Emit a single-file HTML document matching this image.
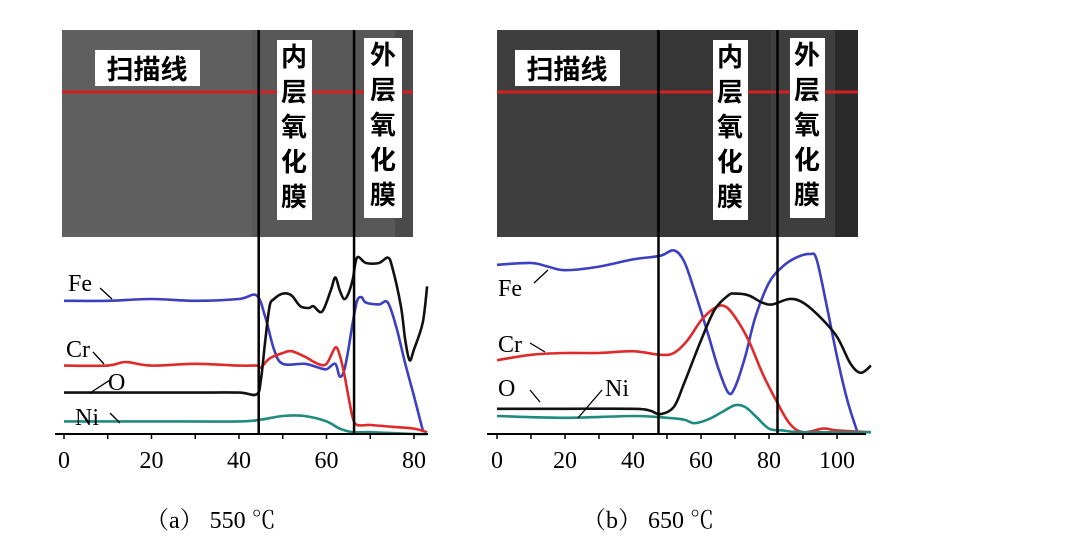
<!DOCTYPE html>
<html><head><meta charset="utf-8"><style>
body{margin:0;background:#fff;}
svg{display:block;font-family:"Liberation Serif","Noto Serif CJK SC",serif;}
.cjk{font-family:"Liberation Sans","Noto Sans CJK SC",sans-serif;font-weight:bold;}
</style></head><body>
<svg id="s" width="1070" height="546" viewBox="0 0 1070 546">
<g>
<rect x="62" y="30" width="351" height="207" fill="#5f5f5f"/>
<rect x="252" y="30" width="161" height="207" fill="#585858"/>
<rect x="395" y="30" width="18" height="207" fill="#4a4a4a"/>
<line x1="62" y1="92" x2="413" y2="92" stroke="#d42020" stroke-width="3"/>
<rect x="95" y="50" width="105" height="36" fill="#fff"/>
<text class="cjk" x="147" y="79" font-size="27" text-anchor="middle">扫描线</text>
<rect x="277" y="40" width="35" height="180" fill="#fff"/>
<text class="cjk" font-size="26" text-anchor="middle"><tspan x="294" y="66">内</tspan><tspan x="294" y="101">层</tspan><tspan x="294" y="136">氧</tspan><tspan x="294" y="171">化</tspan><tspan x="294" y="206">膜</tspan></text>
<rect x="364" y="38" width="38" height="180" fill="#fff"/>
<text class="cjk" font-size="26" text-anchor="middle"><tspan x="383" y="64">外</tspan><tspan x="383" y="99">层</tspan><tspan x="383" y="134">氧</tspan><tspan x="383" y="169">化</tspan><tspan x="383" y="204">膜</tspan></text>
</g>
<g>
<rect x="497" y="30" width="361" height="207" fill="#3e3e3e"/>
<rect x="656" y="30" width="115" height="207" fill="#363636"/>
<rect x="835" y="30" width="23" height="207" fill="#2a2a2a"/>
<line x1="497" y1="92" x2="858" y2="92" stroke="#d42020" stroke-width="3"/>
<rect x="515" y="50" width="105" height="36" fill="#fff"/>
<text class="cjk" x="567" y="79" font-size="27" text-anchor="middle">扫描线</text>
<rect x="713" y="40" width="35" height="180" fill="#fff"/>
<text class="cjk" font-size="26" text-anchor="middle"><tspan x="730" y="66">内</tspan><tspan x="730" y="101">层</tspan><tspan x="730" y="136">氧</tspan><tspan x="730" y="171">化</tspan><tspan x="730" y="206">膜</tspan></text>
<rect x="790" y="38" width="35" height="180" fill="#fff"/>
<text class="cjk" font-size="26" text-anchor="middle"><tspan x="807" y="64">外</tspan><tspan x="807" y="99">层</tspan><tspan x="807" y="134">氧</tspan><tspan x="807" y="169">化</tspan><tspan x="807" y="204">膜</tspan></text>
</g>
<g id="ga"></g>
<g id="gb"></g>
<text x="145" y="528" font-size="24">（a）  550 ℃</text>
<text x="582" y="528" font-size="24">（b）  650 ℃</text>
</svg>
<script>
const aTicks=[0,20,40,60,80];
const aBoundaries=[44.5,66.3];
const aFeX=[0,10,20,30,40,44,46,48,50,55,58,60,62,63,64,65,66,67,68,69,72,74,76,78,80,82];
const aFeY=[74,74,75,74,75,77,65,47,39,39,37,36,39,32,35,47,62,74,76,73,72,73,59,39,21,2];
const aOX=[0,10,20,30,40,44,45,46,47,48,50,52,54,56,57,59,61,62,63,64,65,66,67,69,72,74,75,77,78,79,80,82,83];
const aOY=[23,23,23,23,23,22,30,52,71,75,78,77,71,70,71,68,80,87,80,75,78,86,98,95,95,98,93,71,52,41,47,62,82];
const aCrX=[0,10,14,20,30,40,44,45,47,50,52,55,58,60,62,63,64,65,66,67,70,75,80,83];
const aCrY=[38,38,40,38,39,38,38,37,42,45,46,43,39,39,48,44,34,21,9,5,5,4,3,1];
const aNiX=[0,20,40,45,50,55,60,63,66,70,80,83];
const aNiY=[7,7,7,8,10,10,7,3,1,1,0,0];
const bTicks=[0,20,40,60,80,100];
const bBoundaries=[47.5,82.5];
const bFeX=[0,10,15,20,30,40,48,52,55,58,62,65,68,70,73,76,80,84,88,92,94,97,100,103,106];
const bFeY=[94,95,93,91,93,97,99,102,96,80,56,37,23,26,43,65,84,93,98,100,97,71,43,19,1];
const bOX=[0,20,40,45,48,52,55,60,64,68,70,74,78,81,86,90,95,100,104,107,110];
const bOY=[14,14,14,13,11,15,28,52,69,77,78,77,73,72,75,73,65,54,39,34,38];
const bCrX=[0,10,20,30,40,48,52,56,60,64,67,70,74,78,82,86,90,96,100,110];
const bCrY=[41,44,45,45,46,44,45,52,63,70,71,65,52,34,19,6,1,3,2,1];
const bNiX=[0,20,40,50,55,58,62,66,70,73,76,80,84,90,110];
const bNiY=[10,9,10,9,8,6,8,12,16,15,10,3,2,1,1];
const NS="http://www.w3.org/2000/svg";
function mk(p,t,at){const e=document.createElementNS(NS,t);for(const k in at)e.setAttribute(k,at[k]);p.appendChild(e);return e;}
function smooth(pts){
  let d='M'+pts[0][0].toFixed(1)+' '+pts[0][1].toFixed(1);
  for(let i=0;i<pts.length-1;i++){
    const p0=pts[Math.max(0,i-1)],p1=pts[i],p2=pts[i+1],p3=pts[Math.min(pts.length-1,i+2)];
    const c1=[p1[0]+(p2[0]-p0[0])/6,p1[1]+(p2[1]-p0[1])/6];
    const c2=[p2[0]-(p3[0]-p1[0])/6,p2[1]-(p3[1]-p1[1])/6];
    d+=' C'+c1[0].toFixed(1)+' '+c1[1].toFixed(1)+' '+c2[0].toFixed(1)+' '+c2[1].toFixed(1)+' '+p2[0].toFixed(1)+' '+p2[1].toFixed(1);
  }
  return d;
}
function chart(g,x0,sx,xmin,xmax,ticks,bounds,series){
  const base=434, sy=1.8;
  const X=d=>x0+d*sx, Y=v=>base-v*sy;
  for(const s of series){
    const d=smooth(s.x.map((v,i)=>[X(v),Y(s.y[i])]));
    const p=mk(g,'path',{d:d,fill:'none',stroke:s.c,'stroke-width':2.6,'stroke-linejoin':'round'});
    
    
  }
  const ax=mk(g,'line',{x1:xmin,y1:base,x2:xmax,y2:base,stroke:'#000','stroke-width':2});
  
  
  const last=ticks[ticks.length-1];
  for(let v=0;v<=last+10;v+=10){
    if(X(v)>xmax)break;
    mk(g,'line',{x1:X(v),y1:base,x2:X(v),y2:base+5,stroke:'#000','stroke-width':1.5});
  }
  for(const t of ticks){
    const tx=mk(g,'text',{x:X(t),y:base+34,'font-size':24,'text-anchor':'middle'});
    tx.textContent=t;
    
    
  }
  for(const b of bounds){
    const l=mk(g,'line',{x1:X(b),y1:30,x2:X(b),y2:base,stroke:'#000','stroke-width':2.5});
    
    
  }
}
const ga=document.getElementById('ga'), gb=document.getElementById('gb');
chart(ga,64,4.375,55,428,aTicks,aBoundaries,[
 {x:aFeX,y:aFeY,c:'#3b3fc0',n:'fe-line-a'},{x:aCrX,y:aCrY,c:'#e02a2a',n:'cr-line-a'},
 {x:aNiX,y:aNiY,c:'#1e8a80',n:'ni-line-a'},{x:aOX,y:aOY,c:'#111',n:'o-line-a'}]);
chart(gb,497,3.4,487,866,bTicks,bBoundaries,[
 {x:bFeX,y:bFeY,c:'#3b3fc0',n:'fe-line-b'},{x:bCrX,y:bCrY,c:'#e02a2a',n:'cr-line-b'},
 {x:bNiX,y:bNiY,c:'#1e8a80',n:'ni-line-b'},{x:bOX,y:bOY,c:'#111',n:'o-line-b'}]);
function lab(g,t,x,y,lx1,ly1,lx2,ly2,n){
  const e=mk(g,'text',{x:x,y:y,'font-size':24});e.textContent=t;
  
  
  mk(g,'line',{x1:lx1,y1:ly1,x2:lx2,y2:ly2,stroke:'#000','stroke-width':1.3});
}
lab(ga,'Fe',68,291,100,288,112,299,'fe-label-a');
lab(ga,'Cr',66,357,93,352,104,364,'cr-label-a');
lab(ga,'O',108,390,90,393,110,380,'o-label-a');
lab(ga,'Ni',75,425,110,413,120,423,'ni-label-a');
lab(gb,'Fe',498,296,534,283,548,270,'fe-label-b');
lab(gb,'Cr',498,352,530,343,545,352,'cr-label-b');
lab(gb,'O',498,396,530,390,540,402,'o-label-b');
lab(gb,'Ni',605,396,602,390,578,418,'ni-label-b');
</script>
</body></html>
